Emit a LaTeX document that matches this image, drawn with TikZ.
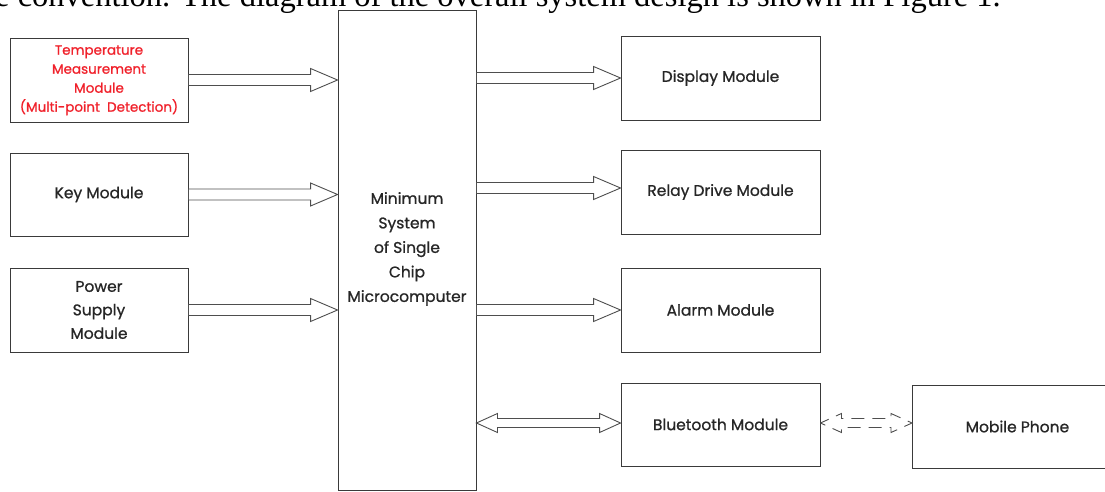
\documentclass[tikz,border=0pt]{standalone}
\usepackage{fontspec}
\setmainfont{Poppins}[FakeBold=0.9]
\newfontfamily\bodyfont{Liberation Serif}
\usetikzlibrary{calc}
\definecolor{boxline}{HTML}{3A3A3A}
\definecolor{tempred}{HTML}{F0202A}

\begin{document}
\begin{tikzpicture}[x=1pt, y=-1pt]
  \tikzset{
    module/.style={draw=boxline, line width=0.9pt, minimum width=178pt, minimum height=84pt,
      inner sep=0pt, align=center, text=black!85, font=\fontsize{15.5}{23.5}\selectfont},
    outmodule/.style={module, minimum width=199pt},
    hollow/.style={draw=boxline!90, line width=0.9pt,
      to path={let \p1=(\tikztostart), \p2=(\tikztotarget) in
        (\x1,\y1+5.5pt) -- (\x2-27pt,\y1+5.5pt) -- (\x2-27pt,\y1+11.5pt) -- (\x2,\y1)
        -- (\x2-27pt,\y1-11.5pt) -- (\x2-27pt,\y1-5.5pt) -- (\x1,\y1-5.5pt) -- cycle}},
    hollowboth/.style={draw=boxline!90, line width=0.9pt,
      to path={let \p1=(\tikztostart), \p2=(\tikztotarget) in
        (\x1,\y1) -- (\x1+21pt,\y1+9.5pt) -- (\x1+21pt,\y1+4.5pt) -- (\x2-21pt,\y1+4.5pt)
        -- (\x2-21pt,\y1+9.5pt) -- (\x2,\y1) -- (\x2-21pt,\y1-9.5pt) -- (\x2-21pt,\y1-4.5pt)
        -- (\x1+21pt,\y1-4.5pt) -- (\x1+21pt,\y1-9.5pt) -- cycle}},
  }
  \clip (0,0) rectangle (1105,492);

  % running text above the figure
  \node[anchor=base west, inner sep=0pt, font=\bodyfont\fontsize{32.5}{32.5}\selectfont] (lead) at (-5,7)
    {e convention. The diagram of the overall system design is shown in Figure 1.};

  % input side
  \node[module, text=tempred, font=\fontsize{13.5}{19}\selectfont, text depth=3pt] (temp) at (99,80)
    {Temperature\\Measurement\\Module\\(Multi-point~ Detection)};
  \node[module, minimum height=83pt] (key) at (99,194.5) {Key Module};
  \node[module] (power) at (99,310) {Power\\Supply\\Module};

  % controller
  \node[module, minimum width=138pt, minimum height=480pt, font=\fontsize{15.5}{24.5}\selectfont, text depth=6pt] (mcu) at (407,250)
    {Minimum\\System\\of Single\\Chip\\Microcomputer};

  % output side
  \node[outmodule] (display) at (720.5,78) {Display Module};
  \node[outmodule] (relay) at (720.5,192) {Relay Drive Module};
  \node[outmodule] (alarm) at (720.5,310) {Alarm Module};
  \node[outmodule, minimum height=83pt] (bt) at (720.5,424.5) {Bluetooth Module};
  \node[module, minimum width=210pt, minimum height=83pt, anchor=west] (phone) at (912,426.5) {Mobile Phone};

  \draw[hollow] (temp.east) to (temp.east -| mcu.west);
  \draw[hollow] (key.east) to (key.east -| mcu.west);
  \draw[hollow] (power.east) to (power.east -| mcu.west);
  \draw[hollow] (mcu.east |- display.west) to (display.west);
  \draw[hollow] ($(mcu.east |- relay.west)+(0,-4)$) to ($(relay.west)+(0,-4)$);
  \draw[hollow] (mcu.east |- alarm.west) to (alarm.west);
  \draw[hollowboth] ($(mcu.east |- bt.west)+(0,-1.5)$) to ($(bt.west)+(0,-1.5)$);
  \draw[hollowboth, dash pattern=on 13pt off 8pt, dash phase=4pt] ($(bt.east)+(0,-1.5)$) to ($(bt.east -| phone.west)+(0,-1.5)$);
\end{tikzpicture}
\end{document}
